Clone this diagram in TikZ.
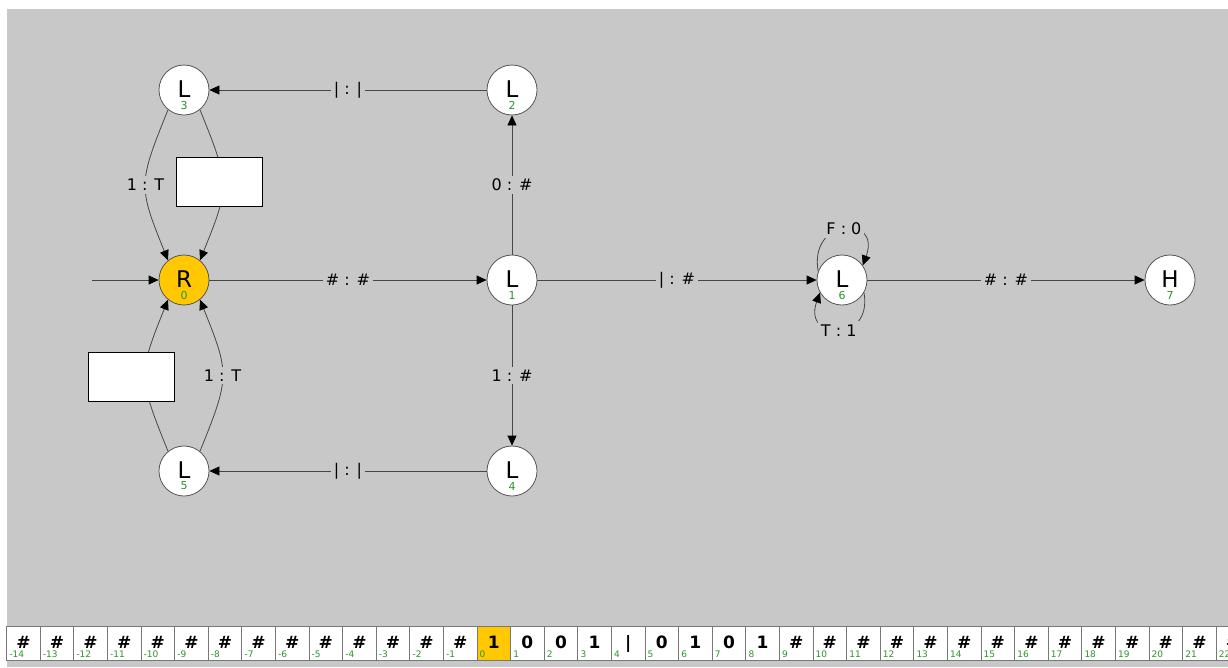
\documentclass[tikz,border=0pt]{standalone}
\usepackage{fontspec}
\setmainfont{DejaVu Sans}
\usetikzlibrary{arrows.meta}

\definecolor{panel}{RGB}{200,200,200}
\definecolor{wire}{RGB}{70,70,70}
\definecolor{ring}{RGB}{85,85,85}
\definecolor{current}{RGB}{255,200,0}
\definecolor{idxgreen}{RGB}{40,150,40}
\definecolor{cellrule}{RGB}{120,120,120}

\begin{document}
\begin{tikzpicture}[x=1pt, y=1pt,
  state/.style={circle, draw=ring, line width=0.8pt, fill=white,
    minimum size=50pt, inner sep=0pt},
  active/.style={state, fill=current},
  sym/.style={font=\fontsize{23}{23}\selectfont, inner sep=0pt, yshift=1pt},
  idx/.style={font=\fontsize{11}{11}\selectfont, text=idxgreen,
    inner sep=0pt, yshift=-15pt},
  edge/.style={draw=wire, line width=0.8pt,
    -{Triangle[length=10pt, width=9pt, color=black]}},
  elab/.style={fill=panel, inner sep=3pt, font=\fontsize{16}{16}\selectfont},
  blank/.style={draw=black, line width=0.8pt, fill=white,
    minimum width=86pt, minimum height=49pt, inner sep=0pt},
  cell/.style={draw=cellrule, line width=0.8pt, minimum width=33.6pt,
    minimum height=34pt, inner sep=0pt, outer sep=0pt, anchor=north west},
  tapesym/.style={font=\bfseries\fontsize{17}{17}\selectfont, inner sep=0pt,
    anchor=base},
  tapeidx/.style={font=\fontsize{9}{9}\selectfont, text=idxgreen,
    inner sep=0pt, anchor=base west}]

\useasboundingbox (0,0) rectangle (1228,-667);
\clip (0,0) rectangle (1228,-667);
\fill[white] (0,0) rectangle (1228,-667);
\fill[panel] (7,-9) rectangle (1228,-667);

% states
\node[active, label={[sym]center:R}, label={[idx]center:0}] (r0) at (184,-280) {};
\node[state, label={[sym]center:L}, label={[idx]center:1}] (l1) at (512,-280) {};
\node[state, label={[sym]center:L}, label={[idx]center:2}] (l2) at (512,-90) {};
\node[state, label={[sym]center:L}, label={[idx]center:3}] (l3) at (184,-90) {};
\node[state, label={[sym]center:L}, label={[idx]center:4}] (l4) at (512,-471) {};
\node[state, label={[sym]center:L}, label={[idx]center:5}] (l5) at (184,-471) {};
\node[state, label={[sym]center:L}, label={[idx]center:6}] (l6) at (842,-280) {};
\node[state, label={[sym]center:H}, label={[idx]center:7}] (h7) at (1170,-280) {};

% transitions
\coordinate (entry) at (92,-280);
\draw[edge] (entry) -- (r0);
\draw[edge] (r0) -- node[elab]{\# : \#} (l1);
\draw[edge] (l1) -- node[elab]{0 : \#} (l2);
\draw[edge] (l1) -- node[elab]{1 : \#} (l4);
\draw[edge] (l2) -- node[elab]{| : |} (l3);
\draw[edge] (l4) -- node[elab]{| : |} (l5);
\draw[edge] (l3.231) to[out=248, in=112, distance=80pt] node[elab]{1 : T} (r0.129);
\draw[edge] (l3.309) to[out=292, in=68, distance=80pt] (r0.51);
\draw[edge] (l5.129) to[out=112, in=248, distance=80pt] (r0.231);
\draw[edge] (l5.51) to[out=68, in=292, distance=80pt] node[elab]{1 : T} (r0.309);
\node[blank] (box1) at (219,-181.5) {};
\node[blank] (box2) at (131,-377) {};
\draw[edge] (l1) -- node[elab]{| : \#} (l6);
\draw[edge] (l6.160) to[out=100, in=70, distance=55pt] node[elab]{F : 0} (l6.35);
\draw[edge] (l6.-30) to[out=-80, in=-110, distance=52pt] node[elab]{T : 1} (l6.210);
\draw[edge] (l6) -- node[elab]{\# : \#} (h7);

% tape
\foreach \s [count=\n from -14] in
  {\#,\#,\#,\#,\#,\#,\#,\#,\#,\#,\#,\#,\#,\#,
   1,0,0,1,|,0,1,0,1,
   \#,\#,\#,\#,\#,\#,\#,\#,\#,\#,\#,\#,\#,\#} {
  \pgfmathsetmacro\cx{477+33.6*\n}
  \ifnum\n=0 \def\cf{current}\else\def\cf{white}\fi
  \node[cell, fill=\cf] (cell\n) at (\cx,-626) {};
  \node[tapesym] (sym\n) at (\cx+16.8,-648) {\s};
  \node[tapeidx] (num\n) at (\cx+2.5,-657.5) {\n};
}
\end{tikzpicture}
\end{document}
